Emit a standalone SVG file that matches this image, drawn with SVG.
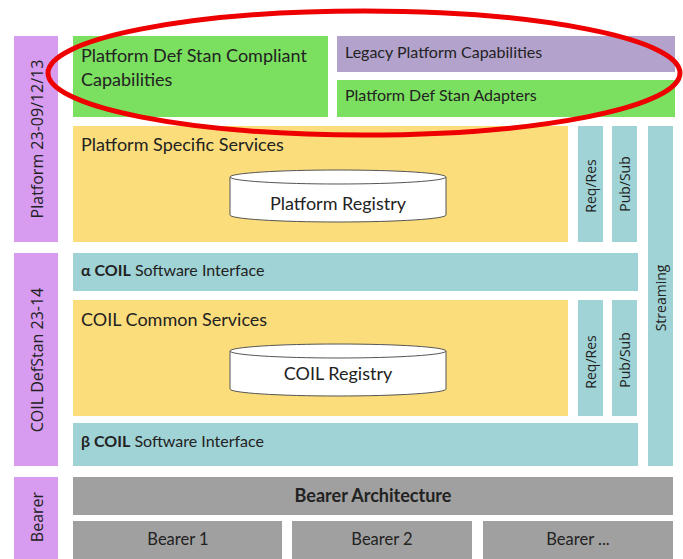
<svg xmlns="http://www.w3.org/2000/svg" width="683" height="559" viewBox="0 0 683 559">
<style>
.t{font-family:Lato,"Open Sans","Liberation Sans",sans-serif;fill:#222}
.v{font-family:"Open Sans","Noto Sans","Liberation Sans",sans-serif;fill:#222}
.p{fill:#D79CF0}
.g{fill:#7BE05F}
.l{fill:#B3A2CC}
.y{fill:#FCDD7C}
.c{fill:#A0D3D6}
.k{fill:#A0A0A0}
.cyl{fill:#fff;stroke:#555;stroke-width:1}
</style>
<rect width="683" height="559" fill="#fff"/>
<g id="lbl-platform"><rect class="p" x="14" y="36" width="44" height="206"/><text class="v" font-size="16" transform="translate(43,139) rotate(-90)" text-anchor="middle">Platform 23-09/12/13</text></g>
<g id="lbl-coil"><rect class="p" x="14" y="253" width="44" height="213"/><text class="v" font-size="16" transform="translate(43,360) rotate(-90)" text-anchor="middle">COIL DefStan 23-14</text></g>
<g id="lbl-bearer"><rect class="p" x="14" y="477" width="44" height="82"/><text class="v" font-size="16" transform="translate(43,517) rotate(-90)" text-anchor="middle">Bearer</text></g>
<g id="compliant"><rect class="g" x="73" y="36" width="255" height="81"/><text class="t" font-size="18" x="81" y="62">Platform Def Stan Compliant</text><text class="t" font-size="18" x="81" y="86">Capabilities</text></g>
<g id="legacy"><rect class="l" x="337" y="36" width="338" height="36"/><text class="t" font-size="16" x="345" y="58">Legacy Platform Capabilities</text></g>
<g id="adapters"><rect class="g" x="337" y="80" width="338" height="37"/><text class="t" font-size="16" x="345" y="101">Platform Def Stan Adapters</text></g>
<g id="pss"><rect class="y" x="73" y="126" width="495" height="116"/><text class="t" font-size="18" x="81" y="151">Platform Specific Services</text></g>
<g id="preg"><path class="cyl" d="M230,177 A108,7 0 0,1 446,177 V215 A108,7 0 0,1 230,215 Z"/><path class="cyl" fill="none" d="M230,177 A108,7 0 0,0 446,177"/><text class="t" font-size="18" x="338" y="210" text-anchor="middle">Platform Registry</text></g>
<g id="reqres1"><rect class="c" x="578" y="126" width="25" height="116"/><text class="v" font-size="14" transform="translate(596,186) rotate(-90)" text-anchor="middle">Req/Res</text></g>
<g id="pubsub1"><rect class="c" x="612" y="126" width="25" height="116"/><text class="v" font-size="14" transform="translate(630,184) rotate(-90)" text-anchor="middle">Pub/Sub</text></g>
<g id="streaming"><rect class="c" x="648" y="126" width="25" height="340"/><text class="v" font-size="14" transform="translate(666,298) rotate(-90)" text-anchor="middle">Streaming</text></g>
<g id="alpha"><rect class="c" x="73" y="253" width="565" height="38"/><text class="t" font-size="16" x="81" y="276"><tspan font-weight="bold">α COIL</tspan> Software Interface</text></g>
<g id="ccs"><rect class="y" x="73" y="300" width="495" height="116"/><text class="t" font-size="18" x="81" y="326">COIL Common Services</text></g>
<g id="creg"><path class="cyl" d="M230,351 A108,7 0 0,1 446,351 V389 A108,7 0 0,1 230,389 Z"/><path class="cyl" fill="none" d="M230,351 A108,7 0 0,0 446,351"/><text class="t" font-size="18" x="338" y="380" text-anchor="middle">COIL Registry</text></g>
<g id="reqres2"><rect class="c" x="578" y="300" width="25" height="116"/><text class="v" font-size="14" transform="translate(596,362) rotate(-90)" text-anchor="middle">Req/Res</text></g>
<g id="pubsub2"><rect class="c" x="612" y="300" width="25" height="116"/><text class="v" font-size="14" transform="translate(630,360) rotate(-90)" text-anchor="middle">Pub/Sub</text></g>
<g id="beta"><rect class="c" x="73" y="423" width="565" height="43"/><text class="t" font-size="16" x="81" y="447"><tspan font-weight="bold">β COIL</tspan> Software Interface</text></g>
<g id="bearer-arch"><rect class="k" x="73" y="477" width="600" height="38"/><text class="t" font-size="18" font-weight="bold" x="373" y="502" text-anchor="middle">Bearer Architecture</text></g>
<g id="bearer1"><rect class="k" x="73" y="521" width="209" height="38"/><text class="t" font-size="16.5" x="178" y="545" text-anchor="middle">Bearer 1</text></g>
<g id="bearer2"><rect class="k" x="292" y="521" width="180" height="38"/><text class="t" font-size="16.5" x="382" y="545" text-anchor="middle">Bearer 2</text></g>
<g id="bearer3"><rect class="k" x="483" y="521" width="190" height="38"/><text class="t" font-size="16.5" x="578" y="545" text-anchor="middle">Bearer ...</text></g>
<g id="connectors"><ellipse cx="364" cy="73" rx="316" ry="62" fill="none" stroke="#EE0000" stroke-width="5"/></g>
</svg>
